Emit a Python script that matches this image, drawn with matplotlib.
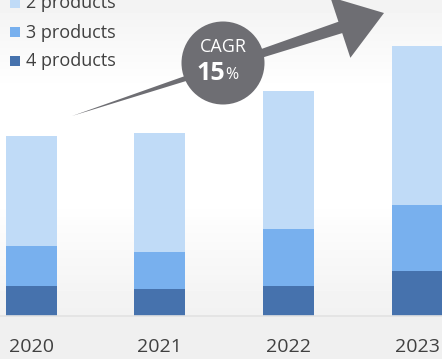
import numpy as np
import matplotlib.pyplot as plt
from matplotlib.patches import Polygon, Circle, Rectangle

plt.rcParams['font.family'] = ['Open Sans', 'DejaVu Sans']

years = ['2020', '2021', '2022', '2023']
products_4 = [30, 27, 30, 45]
products_3 = [40, 37, 57, 66]
products_2 = [110, 119, 138, 159]

labels = ['2 products', '3 products', '4 products']
colors = ['#c0dbf7', '#78b0ee', '#4672ad']
text_color = '#404040'

W, H = 442, 359
fig = plt.figure(figsize=(W / 100, H / 100), dpi=100)

# background gradient
bg = fig.add_axes([0, 0, 1, 1])
rows = np.arange(H)
shade = np.interp(rows, [0, 90, 200, 316, 317, H], [0.95, 1.0, 1.0, 0.945, 0.94, 0.94])
img = np.repeat(shade[:, None], 2, axis=1)
bg.imshow(img, cmap='gray', vmin=0, vmax=1, aspect='auto', extent=[0, W, H, 0])
bg.set_axis_off()

# bars
base_px = 316
ax = fig.add_axes([0, (H - base_px) / H, 1, base_px / H])
ax.patch.set_alpha(0)
x = np.arange(len(years))
w = 0.396
ax.bar(x, products_4, w, color=colors[2])
ax.bar(x, products_3, w, bottom=products_4, color=colors[1])
ax.bar(x, products_2, w, bottom=np.add(products_4, products_3), color=colors[0])
ax.set_xlim(-0.241, 3.193)
ax.set_ylim(0, base_px)
ax.set_xticks(x)
ax.set_xticklabels(years)
ax.tick_params(axis='x', length=0, pad=16, labelsize=14, labelcolor=text_color)
ax.set_yticks([])
for s in ['top', 'left', 'right']:
    ax.spines[s].set_visible(False)
ax.spines['bottom'].set_color('#e2e2e2')
ax.spines['bottom'].set_linewidth(1.2)

# overlay in pixel coords: arrow, CAGR badge, legend
ov = fig.add_axes([0, 0, 1, 1])
ov.set_xlim(0, W)
ov.set_ylim(H, 0)
ov.set_axis_off()
ov.patch.set_alpha(0)

gray = '#6e6e73'
tail = np.array([72.0, 116.0])
tip = np.array([384.0, 13.0])
d = tip - tail
L = np.hypot(*d)
u = d / L
n = np.array([-u[1], u[0]])
s_base = L - 46
hb = tail + u * s_base
pts = [tail, hb + n * 6, hb + n * 32, tip, hb - n * 32, hb - n * 6]
ov.add_patch(Polygon(pts, closed=True, color=gray, lw=0))

ov.add_patch(Circle((223, 63), 41.5, color=gray, lw=0))
ov.text(223, 47, 'CAGR', color='white', fontsize=13, ha='center', va='center')
ov.text(225, 73, r'15', color='white', fontsize=18, fontweight='bold', ha='right', va='center')
ov.text(225, 75, '%', color='white', fontsize=11.5, ha='left', va='center')

for i, (lab, c) in enumerate(zip(labels, colors)):
    y = 3 + 29 * i
    ov.add_patch(Rectangle((10, y - 5), 10, 10, color=c, lw=0))
    ov.text(26, y + 0.5, lab, color=text_color, fontsize=13, ha='left', va='center')

fig.savefig('out.png', dpi=100)
